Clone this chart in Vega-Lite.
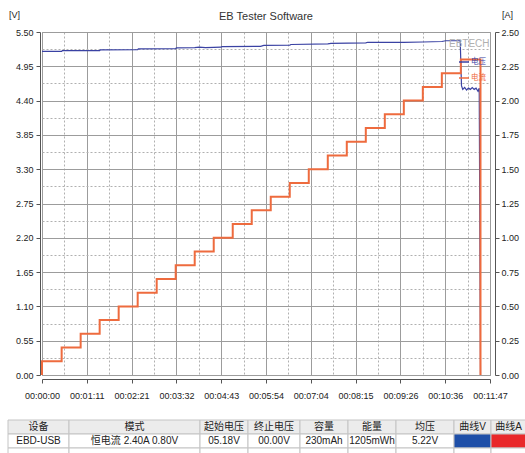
{
  "$schema": "https://vega.github.io/schema/vega-lite/v6.json",
  "padding": {"left": 7, "top": 9, "right": 0, "bottom": 0},
  "background": "white",
  "config": {
    "font": "Liberation Sans",
    "view": {"stroke": "#8c8c8c"},
    "concat": {"spacing": 0}
  },
  "resolve": {"legend": {"color": "independent"}},
  "datasets": {
    "volt": [
      {"t": 0, "V": 5.19}, {"t": 31, "V": 5.19}, {"t": 32, "V": 5.2}, {"t": 91, "V": 5.2},
      {"t": 92, "V": 5.213}, {"t": 151, "V": 5.218}, {"t": 152, "V": 5.228}, {"t": 211, "V": 5.232},
      {"t": 212, "V": 5.246}, {"t": 241, "V": 5.25}, {"t": 248, "V": 5.258}, {"t": 258, "V": 5.25},
      {"t": 271, "V": 5.254}, {"t": 282, "V": 5.256}, {"t": 284, "V": 5.266}, {"t": 345, "V": 5.27},
      {"t": 350, "V": 5.284}, {"t": 391, "V": 5.29}, {"t": 393, "V": 5.3}, {"t": 451, "V": 5.31},
      {"t": 456, "V": 5.318}, {"t": 511, "V": 5.325}, {"t": 514, "V": 5.335}, {"t": 571, "V": 5.335},
      {"t": 601, "V": 5.34}, {"t": 631, "V": 5.348}, {"t": 637, "V": 5.36}, {"t": 660, "V": 5.36},
      {"t": 662, "V": 4.64}, {"t": 664, "V": 4.58}, {"t": 667, "V": 4.61}, {"t": 670, "V": 4.57},
      {"t": 673, "V": 4.6}, {"t": 676, "V": 4.58}, {"t": 679, "V": 4.61}, {"t": 682, "V": 4.58},
      {"t": 685, "V": 4.6}, {"t": 688, "V": 4.55}, {"t": 690, "V": 4.6}, {"t": 692, "V": 0}
    ],
    "curr": [
      {"t": 0, "I": 0}, {"t": 0, "I": 0.1}, {"t": 31, "I": 0.2}, {"t": 61, "I": 0.3},
      {"t": 91, "I": 0.4}, {"t": 121, "I": 0.5}, {"t": 151, "I": 0.6}, {"t": 181, "I": 0.7},
      {"t": 211, "I": 0.8}, {"t": 241, "I": 0.9}, {"t": 271, "I": 1.0}, {"t": 301, "I": 1.1},
      {"t": 331, "I": 1.2}, {"t": 361, "I": 1.3}, {"t": 391, "I": 1.4}, {"t": 421, "I": 1.5},
      {"t": 451, "I": 1.6}, {"t": 481, "I": 1.7}, {"t": 511, "I": 1.8}, {"t": 541, "I": 1.9},
      {"t": 571, "I": 2.0}, {"t": 601, "I": 2.1}, {"t": 631, "I": 2.2}, {"t": 661, "I": 2.3},
      {"t": 692, "I": 0}
    ],
    "tbl": [
      {"col": "c1", "row": "h", "text": "设备"}, {"col": "c1", "row": "d", "text": "EBD-USB"}, {"col": "c1", "row": "e", "text": ""},
      {"col": "c2", "row": "h", "text": "模式"}, {"col": "c2", "row": "d", "text": "恒电流 2.40A 0.80V"}, {"col": "c2", "row": "e", "text": ""},
      {"col": "c3", "row": "h", "text": "起始电压"}, {"col": "c3", "row": "d", "text": "05.18V"}, {"col": "c3", "row": "e", "text": ""},
      {"col": "c4", "row": "h", "text": "终止电压"}, {"col": "c4", "row": "d", "text": "00.00V"}, {"col": "c4", "row": "e", "text": ""},
      {"col": "c5", "row": "h", "text": "容量"}, {"col": "c5", "row": "d", "text": "230mAh"}, {"col": "c5", "row": "e", "text": ""},
      {"col": "c6", "row": "h", "text": "能量"}, {"col": "c6", "row": "d", "text": "1205mWh"}, {"col": "c6", "row": "e", "text": ""},
      {"col": "c7", "row": "h", "text": "均压"}, {"col": "c7", "row": "d", "text": "5.22V"}, {"col": "c7", "row": "e", "text": ""},
      {"col": "c8", "row": "h", "text": "曲线V"}, {"col": "c8", "row": "d", "text": ""}, {"col": "c8", "row": "e", "text": ""},
      {"col": "c9", "row": "h", "text": "曲线A"}, {"col": "c9", "row": "d", "text": ""}, {"col": "c9", "row": "e", "text": ""}
    ]
  },
  "spacing": 18,
  "vconcat": [
    {
      "bounds": "flush",
      "spacing": 0,
      "resolve": {"legend": {"color": "independent"}},
      "hconcat": [
        {"width": 34, "height": 343, "data": {"values": []}, "mark": {"type": "point", "opacity": 0}, "view": {"stroke": null}},
        {
          "width": 448,
          "height": 343,
          "title": {"text": "EB Tester Software", "fontSize": 11, "fontWeight": "normal", "color": "#333333", "font": "Liberation Sans", "offset": -12},
          "encoding": {
            "x": {
              "field": "t", "type": "quantitative",
              "scale": {"domain": [0, 707], "nice": false, "zero": false},
              "axis": {
                "values": [0, 35.35, 70.7, 106.05, 141.4, 176.75, 212.1, 247.45, 282.8, 318.15, 353.5, 388.85, 424.2, 459.55, 494.9, 530.25, 565.6, 600.95, 636.3, 671.65, 707],
                "title": null, "offset": 4, "tickSize": 4, "labelPadding": 8,
                "domainColor": "#555555", "tickColor": "#555555",
                "labelFont": "Liberation Sans Narrow, Liberation Sans", "labelFontSize": 9, "labelColor": "#222222",
                "labelOverlap": false, "labelFlush": false,
                "labelExpr": "round(datum.value/35.35) % 2 == 0 ? ['00:00:00','00:01:11','00:02:21','00:03:32','00:04:43','00:05:54','00:07:04','00:08:15','00:09:26','00:10:36','00:11:47'][round(datum.value/70.7)] : ''",
                "tickOpacity": {"condition": {"test": "round(datum.value/35.35) % 2 == 1", "value": 0}, "value": 1},
                "grid": true, "gridWidth": 1,
                "gridColor": {"condition": {"test": "round(datum.value/35.35) % 2 == 1", "value": "#b0b0b0"}, "value": "#9c9c9c"},
                "gridDash": {"condition": {"test": "round(datum.value/35.35) % 2 == 1", "value": [2, 2]}, "value": []}
              }
            }
          },
          "layer": [
            {
              "data": {"name": "volt"},
              "mark": {"type": "line", "strokeWidth": 1.2, "interpolate": "linear"},
              "encoding": {
                "y": {
                  "field": "V", "type": "quantitative",
                  "scale": {"domain": [0, 5.5], "nice": false, "zero": true},
                  "axis": {
                    "orient": "left",
                    "values": [0, 0.275, 0.55, 0.825, 1.1, 1.375, 1.65, 1.925, 2.2, 2.475, 2.75, 3.025, 3.3, 3.575, 3.85, 4.125, 4.4, 4.675, 4.95, 5.225, 5.5],
                    "offset": 2, "tickSize": 4, "labelPadding": 3,
                    "domainColor": "#555555", "tickColor": "#555555",
                    "labelFont": "Liberation Sans Narrow, Liberation Sans", "labelFontSize": 9, "labelColor": "#222222",
                    "labelOverlap": false, "labelFlush": false,
                    "labelExpr": "round(datum.value/0.275) % 2 == 0 ? format(datum.value, '.2f') : ''",
                    "tickOpacity": {"condition": {"test": "round(datum.value/0.275) % 2 == 1", "value": 0}, "value": 1},
                    "grid": true, "gridWidth": 1,
                    "gridColor": {"condition": {"test": "round(datum.value/0.275) % 2 == 1", "value": "#b0b0b0"}, "value": "#9c9c9c"},
                    "gridDash": {"condition": {"test": "round(datum.value/0.275) % 2 == 1", "value": [2, 2]}, "value": []},
                    "title": "[V]", "titleAngle": 0, "titleX": -26, "titleY": -18,
                    "titleAlign": "center", "titleBaseline": "middle",
                    "titleFont": "Liberation Sans", "titleFontSize": 9, "titleFontWeight": "normal", "titleColor": "#222222"
                  }
                },
                "color": {
                  "datum": "电压", "type": "nominal",
                  "scale": {"domain": ["电压", "电流"], "range": ["#3a42a3", "#ee6b3e"]},
                  "legend": {
                    "title": "EBTECH", "orient": "none", "legendX": 407, "legendY": 7, "padding": 0,
                    "titleColor": "#b0b0b0", "titleFontSize": 10, "titleFont": "Liberation Sans", "titleFontWeight": "normal",
                    "titlePadding": 7,
                    "symbolType": "stroke", "symbolSize": 100, "symbolStrokeWidth": 1.5, "symbolOffset": 9,
                    "labelFont": "Noto Sans CJK SC", "labelFontSize": 7.5, "labelOffset": 1, "rowPadding": 6,
                    "encode": {"labels": {"update": {"fill": {"scale": "color", "field": "value"}}}}
                  }
                }
              }
            },
            {
              "data": {"name": "curr"},
              "mark": {"type": "line", "strokeWidth": 2, "interpolate": "step-after"},
              "encoding": {
                "y": {
                  "field": "I", "type": "quantitative",
                  "scale": {"domain": [0, 2.5], "nice": false, "zero": true},
                  "axis": {
                    "orient": "right",
                    "values": [0, 0.25, 0.5, 0.75, 1, 1.25, 1.5, 1.75, 2, 2.25, 2.5],
                    "format": ".2f", "grid": false,
                    "offset": 5, "tickSize": 4, "labelPadding": 2,
                    "domainColor": "#555555", "tickColor": "#555555",
                    "labelFont": "Liberation Sans Narrow, Liberation Sans", "labelFontSize": 9, "labelColor": "#222222",
                    "labelOverlap": false, "labelFlush": false,
                    "title": "[A]", "titleAngle": 0, "titleX": 12, "titleY": -18,
                    "titleAlign": "center", "titleBaseline": "middle",
                    "titleFont": "Liberation Sans", "titleFontSize": 9, "titleFontWeight": "normal", "titleColor": "#222222"
                  }
                },
                "color": {"datum": "电流", "type": "nominal"}
              }
            }
          ],
          "resolve": {"scale": {"y": "independent"}}
        }
      ]
    },
    {
      "bounds": "flush",
      "spacing": 0,
      "hconcat": [
        {"width": 61, "height": 42, "data": {"name": "tbl"}, "transform": [{"filter": "datum.col == 'c1'"}], "view": {"stroke": null},
         "encoding": {"y": {"field": "row", "type": "nominal", "scale": {"domain": ["h", "d", "e"], "paddingInner": 0, "paddingOuter": 0}, "axis": null}},
         "layer": [
           {"mark": {"type": "rect", "stroke": "#c4c4c4", "strokeWidth": 1}, "encoding": {"fill": {"condition": {"test": "datum.row == 'h'", "value": "#ececec"}, "value": "#ffffff"}}},
           {"mark": {"type": "text", "font": "Liberation Sans, Noto Sans CJK SC", "fontSize": 10, "color": "#222222"}, "encoding": {"text": {"field": "text"}}}
         ]},
        {"width": 131, "height": 42, "data": {"name": "tbl"}, "transform": [{"filter": "datum.col == 'c2'"}], "view": {"stroke": null},
         "encoding": {"y": {"field": "row", "type": "nominal", "scale": {"domain": ["h", "d", "e"], "paddingInner": 0, "paddingOuter": 0}, "axis": null}},
         "layer": [
           {"mark": {"type": "rect", "stroke": "#c4c4c4", "strokeWidth": 1}, "encoding": {"fill": {"condition": {"test": "datum.row == 'h'", "value": "#ececec"}, "value": "#ffffff"}}},
           {"mark": {"type": "text", "font": "Liberation Sans, Noto Sans CJK SC", "fontSize": 10, "color": "#222222"}, "encoding": {"text": {"field": "text"}}}
         ]},
        {"width": 48, "height": 42, "data": {"name": "tbl"}, "transform": [{"filter": "datum.col == 'c3'"}], "view": {"stroke": null},
         "encoding": {"y": {"field": "row", "type": "nominal", "scale": {"domain": ["h", "d", "e"], "paddingInner": 0, "paddingOuter": 0}, "axis": null}},
         "layer": [
           {"mark": {"type": "rect", "stroke": "#c4c4c4", "strokeWidth": 1}, "encoding": {"fill": {"condition": {"test": "datum.row == 'h'", "value": "#ececec"}, "value": "#ffffff"}}},
           {"mark": {"type": "text", "font": "Liberation Sans, Noto Sans CJK SC", "fontSize": 10, "color": "#222222"}, "encoding": {"text": {"field": "text"}}}
         ]},
        {"width": 52, "height": 42, "data": {"name": "tbl"}, "transform": [{"filter": "datum.col == 'c4'"}], "view": {"stroke": null},
         "encoding": {"y": {"field": "row", "type": "nominal", "scale": {"domain": ["h", "d", "e"], "paddingInner": 0, "paddingOuter": 0}, "axis": null}},
         "layer": [
           {"mark": {"type": "rect", "stroke": "#c4c4c4", "strokeWidth": 1}, "encoding": {"fill": {"condition": {"test": "datum.row == 'h'", "value": "#ececec"}, "value": "#ffffff"}}},
           {"mark": {"type": "text", "font": "Liberation Sans, Noto Sans CJK SC", "fontSize": 10, "color": "#222222"}, "encoding": {"text": {"field": "text"}}}
         ]},
        {"width": 48, "height": 42, "data": {"name": "tbl"}, "transform": [{"filter": "datum.col == 'c5'"}], "view": {"stroke": null},
         "encoding": {"y": {"field": "row", "type": "nominal", "scale": {"domain": ["h", "d", "e"], "paddingInner": 0, "paddingOuter": 0}, "axis": null}},
         "layer": [
           {"mark": {"type": "rect", "stroke": "#c4c4c4", "strokeWidth": 1}, "encoding": {"fill": {"condition": {"test": "datum.row == 'h'", "value": "#ececec"}, "value": "#ffffff"}}},
           {"mark": {"type": "text", "font": "Liberation Sans, Noto Sans CJK SC", "fontSize": 10, "color": "#222222"}, "encoding": {"text": {"field": "text"}}}
         ]},
        {"width": 48, "height": 42, "data": {"name": "tbl"}, "transform": [{"filter": "datum.col == 'c6'"}], "view": {"stroke": null},
         "encoding": {"y": {"field": "row", "type": "nominal", "scale": {"domain": ["h", "d", "e"], "paddingInner": 0, "paddingOuter": 0}, "axis": null}},
         "layer": [
           {"mark": {"type": "rect", "stroke": "#c4c4c4", "strokeWidth": 1}, "encoding": {"fill": {"condition": {"test": "datum.row == 'h'", "value": "#ececec"}, "value": "#ffffff"}}},
           {"mark": {"type": "text", "font": "Liberation Sans, Noto Sans CJK SC", "fontSize": 10, "color": "#222222"}, "encoding": {"text": {"field": "text"}}}
         ]},
        {"width": 58, "height": 42, "data": {"name": "tbl"}, "transform": [{"filter": "datum.col == 'c7'"}], "view": {"stroke": null},
         "encoding": {"y": {"field": "row", "type": "nominal", "scale": {"domain": ["h", "d", "e"], "paddingInner": 0, "paddingOuter": 0}, "axis": null}},
         "layer": [
           {"mark": {"type": "rect", "stroke": "#c4c4c4", "strokeWidth": 1}, "encoding": {"fill": {"condition": {"test": "datum.row == 'h'", "value": "#ececec"}, "value": "#ffffff"}}},
           {"mark": {"type": "text", "font": "Liberation Sans, Noto Sans CJK SC", "fontSize": 10, "color": "#222222"}, "encoding": {"text": {"field": "text"}}}
         ]},
        {"width": 37, "height": 42, "data": {"name": "tbl"}, "transform": [{"filter": "datum.col == 'c8'"}], "view": {"stroke": null},
         "encoding": {"y": {"field": "row", "type": "nominal", "scale": {"domain": ["h", "d", "e"], "paddingInner": 0, "paddingOuter": 0}, "axis": null}},
         "layer": [
           {"mark": {"type": "rect", "stroke": "#c4c4c4", "strokeWidth": 1}, "encoding": {"fill": {"condition": [{"test": "datum.row == 'h'", "value": "#ececec"}, {"test": "datum.row == 'd'", "value": "#1e4fa8"}], "value": "#ffffff"}}},
           {"mark": {"type": "text", "font": "Liberation Sans, Noto Sans CJK SC", "fontSize": 10, "color": "#222222"}, "encoding": {"text": {"field": "text"}}}
         ]},
        {"width": 35, "height": 42, "data": {"name": "tbl"}, "transform": [{"filter": "datum.col == 'c9'"}], "view": {"stroke": null},
         "encoding": {"y": {"field": "row", "type": "nominal", "scale": {"domain": ["h", "d", "e"], "paddingInner": 0, "paddingOuter": 0}, "axis": null}},
         "layer": [
           {"mark": {"type": "rect", "stroke": "#c4c4c4", "strokeWidth": 1}, "encoding": {"fill": {"condition": [{"test": "datum.row == 'h'", "value": "#ececec"}, {"test": "datum.row == 'd'", "value": "#e9282a"}], "value": "#ffffff"}}},
           {"mark": {"type": "text", "font": "Liberation Sans, Noto Sans CJK SC", "fontSize": 10, "color": "#222222"}, "encoding": {"text": {"field": "text"}}}
         ]}
      ]
    }
  ]
}
